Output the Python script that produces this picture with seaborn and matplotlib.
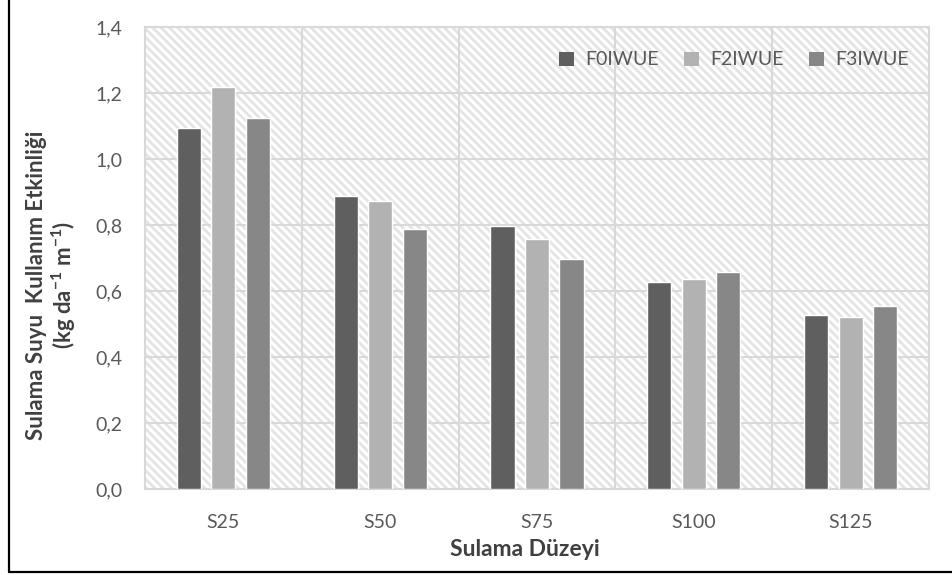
import matplotlib
matplotlib.use("Agg")
import matplotlib.pyplot as plt
import matplotlib.patches as mpatches
from matplotlib.lines import Line2D
import seaborn as sns
import pandas as pd

categories = ["S25", "S50", "S75", "S100", "S125"]
series_names = ["F0IWUE", "F2IWUE", "F3IWUE"]
f0 = [1.093, 0.888, 0.797, 0.627, 0.527]
f2 = [1.218, 0.872, 0.758, 0.635, 0.522]
f3 = [1.124, 0.788, 0.697, 0.657, 0.555]
yticks = [0.0, 0.2, 0.4, 0.6, 0.8, 1.0, 1.2, 1.4]
ytick_labels = ["0,0", "0,2", "0,4", "0,6", "0,8", "1,0", "1,2", "1,4"]
colors = ["#5f5f5f", "#b2b2b2", "#878787"]

rows = []
for name, vals in zip(series_names, [f0, f2, f3]):
    for c, v in zip(categories, vals):
        rows.append({"cat": c, "series": name, "val": v})
df = pd.DataFrame(rows)

sns.set_theme(style="white")
plt.rcParams["font.family"] = ["Lato", "DejaVu Sans"]
plt.rcParams["mathtext.fontset"] = "custom"
plt.rcParams["mathtext.rm"] = "Lato:bold"
plt.rcParams["hatch.color"] = "#e4e4e4"
plt.rcParams["hatch.linewidth"] = 2.0

fig = plt.figure(figsize=(9.53, 5.75), dpi=100)
ax = fig.add_axes([145/953, 1-489/575, (929-145)/953, (489-27)/575])

# hatched background
bg = mpatches.Rectangle((0, 0), 1, 1, transform=ax.transAxes, facecolor="white",
                        edgecolor="#e4e4e4", hatch="\\\\\\\\", linewidth=0, zorder=0)
ax.add_patch(bg)

sns.barplot(data=df, x="cat", y="val", hue="series", palette=colors, order=categories,
            hue_order=series_names, width=0.66, gap=0.3, saturation=1, ax=ax,
            zorder=3, legend=True)

ax.set_ylim(0, 1.4)
ax.set_xlim(-0.5, 4.5)
ax.set_yticks(yticks)
ax.set_yticklabels(ytick_labels)
for y in yticks:
    ax.axhline(y, color="#d9d9d9", lw=1.5, zorder=1)
for x in [0.5, 1.5, 2.5, 3.5]:
    ax.axvline(x, color="#d9d9d9", lw=1.5, zorder=1)
for s in ax.spines.values():
    s.set_color("#d9d9d9")
    s.set_linewidth(1.5)

ax.tick_params(axis="both", length=0, labelsize=14, labelcolor="#595959")
ax.tick_params(axis="y", pad=16)
ax.tick_params(axis="x", pad=18)

ax.set_xlabel("Sulama Düzeyi", fontsize=16.5, fontweight="bold", color="#404040")
ax.xaxis.set_label_coords((525-145)/(929-145), -(550-489)/(489-27) , transform=ax.transAxes)
ax.xaxis.label.set_va("center")
ax.set_ylabel("Sulama Suyu  Kullanım Etkinliği\n(kg da$^{\\mathregular{-1}}$ m$^{\\mathregular{-1}}$)",
              fontsize=16, fontweight="bold", color="#404040", linespacing=1.1)
ax.yaxis.set_label_coords(-(145-52)/(929-145), (489-285)/(489-27), transform=ax.transAxes)
ax.yaxis.label.set_va("center")

handles = [mpatches.Patch(facecolor=c, edgecolor="none") for c in colors]
leg = ax.legend(handles, series_names, loc="upper right", ncol=3, frameon=False,
                fontsize=14, handlelength=0.75, handleheight=0.75, handletextpad=0.6,
                columnspacing=1.3, bbox_to_anchor=(0.997, 0.985))
for t in leg.get_texts():
    t.set_color("#595959")

# outer border
fig.add_artist(Line2D([9/953, 9/953], [3/575, 1], transform=fig.transFigure, color="black", lw=1.6))
fig.add_artist(Line2D([9/953, 1], [3/575, 3/575], transform=fig.transFigure, color="black", lw=1.6))

fig.savefig("out.png", dpi=100)
